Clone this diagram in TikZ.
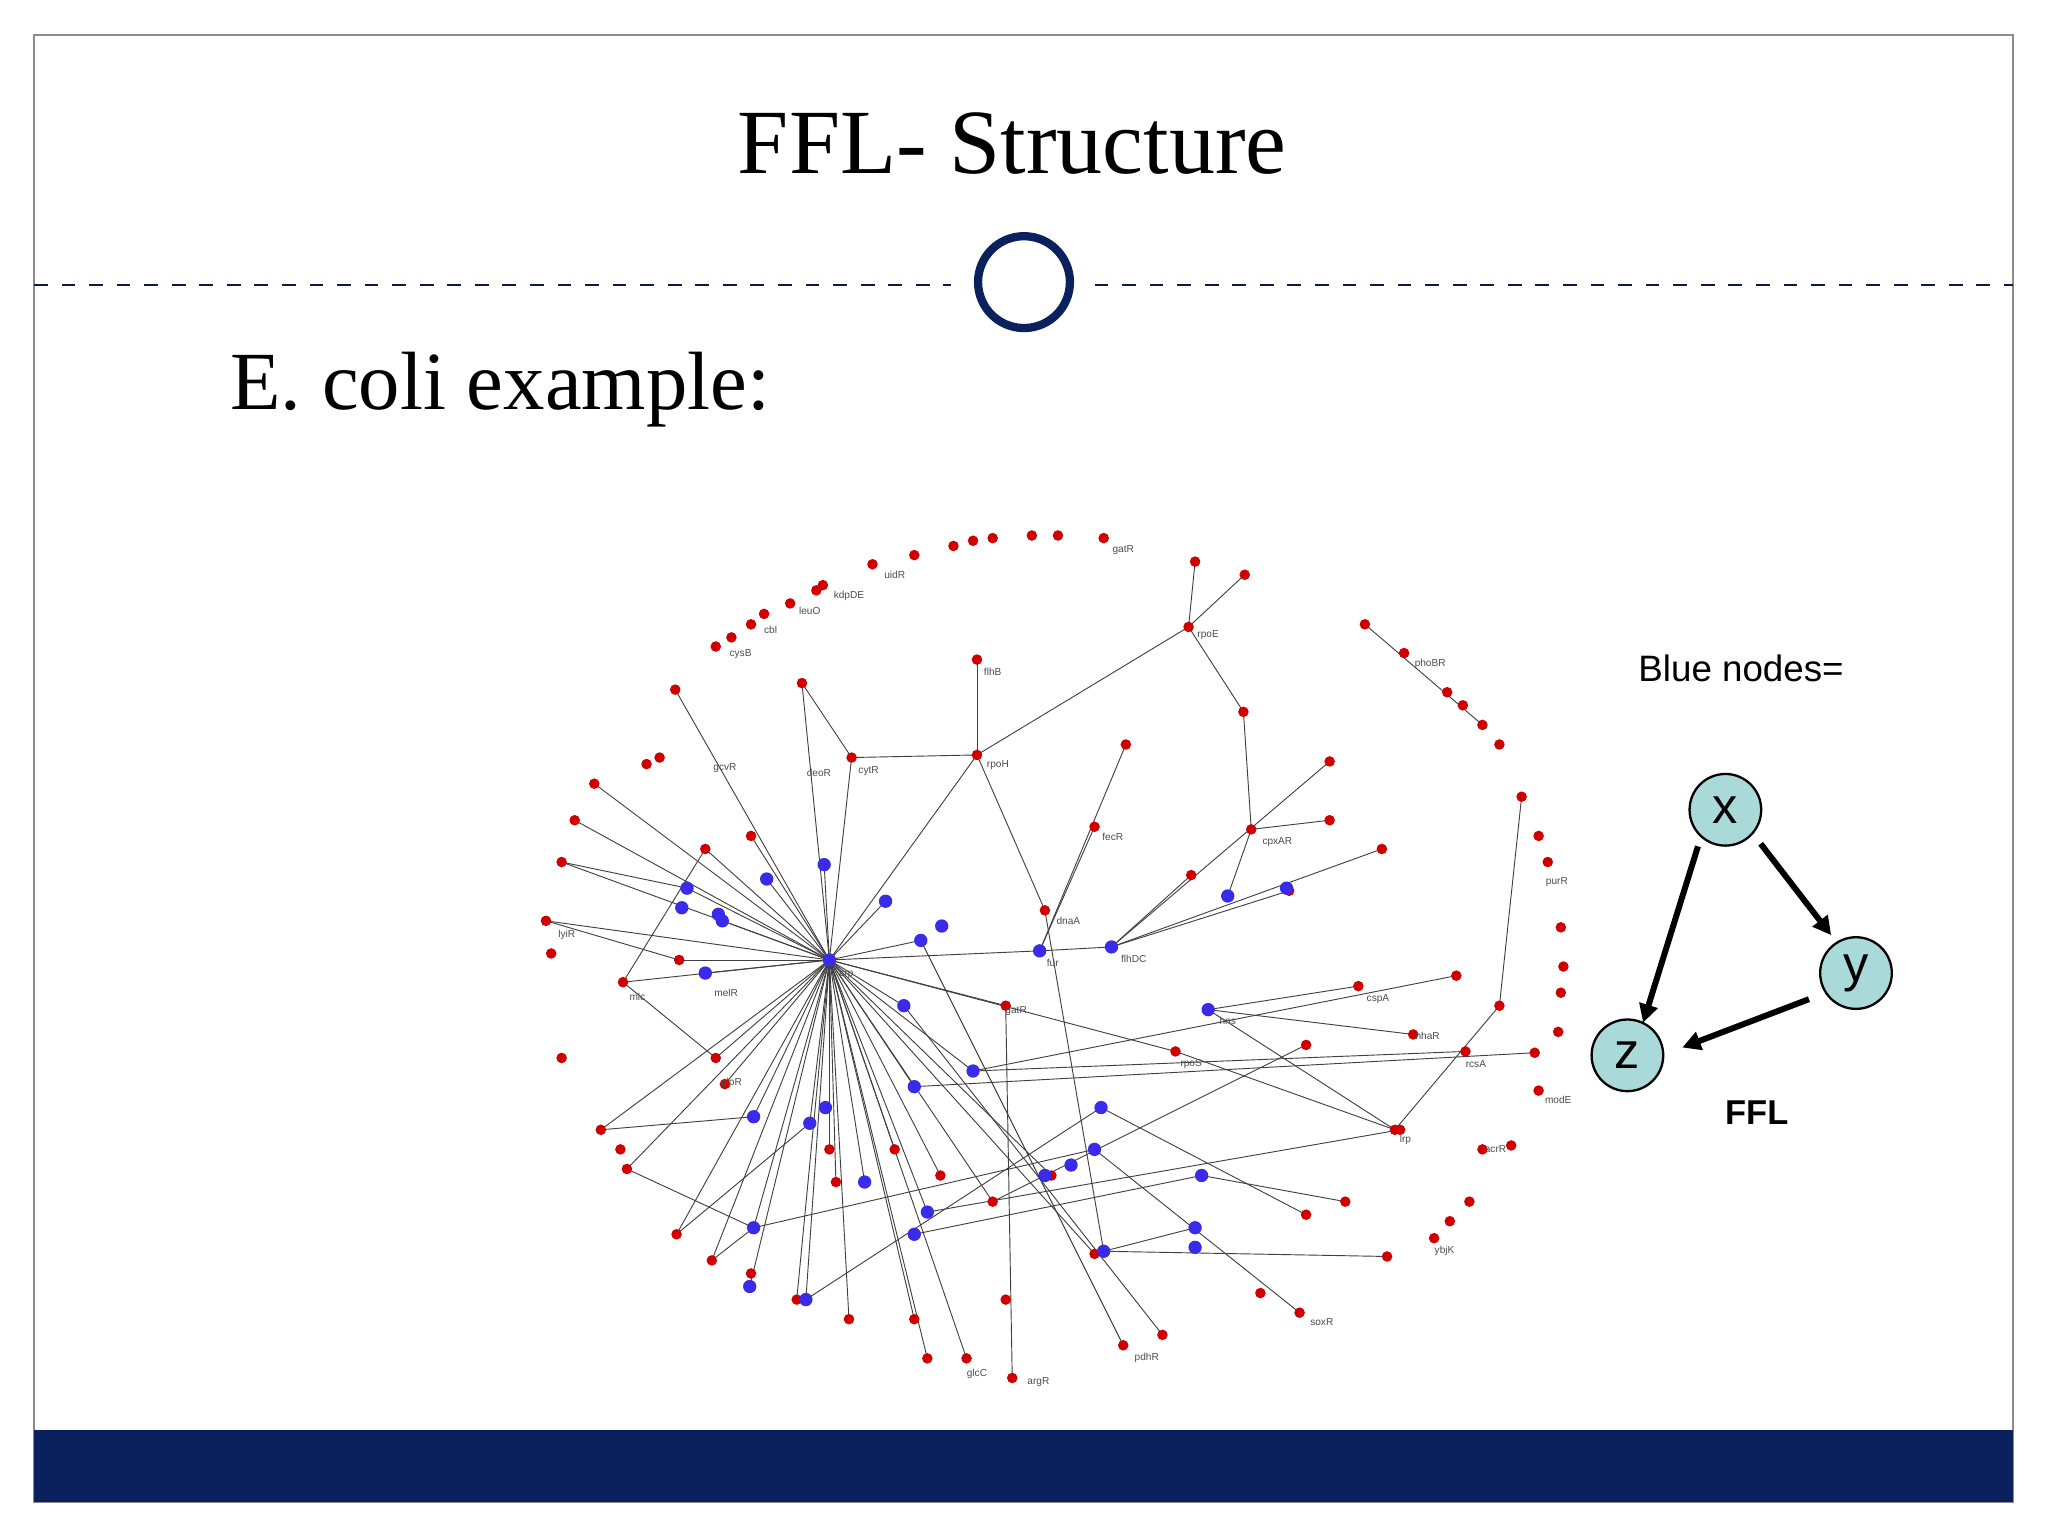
\documentclass[tikz,border=0pt]{standalone}
\usepackage{fontspec}
\setmainfont{Liberation Serif}
\newfontfamily\sans{Liberation Sans}
\usetikzlibrary{arrows.meta}
\definecolor{navy}{HTML}{0B215E}
\definecolor{rnode}{HTML}{D00000}
\definecolor{bnode}{HTML}{3A2BE8}
\definecolor{teal}{HTML}{A9D9D9}
\begin{document}
\begin{tikzpicture}[x=0.01cm,y=-0.01cm,
  rd/.style={circle,fill=rnode,inner sep=0pt,minimum size=2.3pt},
  bd/.style={circle,fill=bnode,inner sep=0pt,minimum size=2.9pt},
  lab/.style={font=\sans\fontsize{2.2}{2.2}\selectfont,text=black!70},
  ed/.style={black!75,line width=0.2pt},
  ffl/.style={circle,draw=black,fill=teal,line width=0.5pt,minimum size=15.6pt,inner sep=0pt,font=\sans\fontsize{11}{11}\selectfont},
  fa/.style={-{Triangle[length=4pt,width=4pt]},line width=1.3pt}]
\useasboundingbox (0,0) rectangle (1568,1176);
\fill[white] (0,0) rectangle (1568,1176);
\draw[black!45,line width=0.4pt] (26,27) rectangle (1541,1150);
\fill[navy] (26,1095) rectangle (1541,1150);
\draw[navy!80!black,dashed,line width=0.35pt] (26,218) -- (728,218);
\draw[navy!80!black,dashed,line width=0.35pt] (838,218) -- (1541,218);
\node[circle,draw=navy,line width=1.8pt,minimum size=20pt,inner sep=0pt] (circ) at (784,216) {};
\node (title) at (775,110) {\fontsize{20}{20}\selectfont FFL- Structure};
\node[anchor=west] (sub) at (164,298) {\fontsize{18}{18}\selectfont E. coli example:};
% network
\coordinate (H) at (635,735);
\foreach \x/\y in {540/650,575/640,520/735,548/810,555/830,635/880,640/905,685/880,720/900,760/920,770/770,805/900,838/960,900/805,455/600,440/628,430/660,418/705,477/752,460/865,480/895,518/945,545/965,610/995,650/1010,700/1010,710/1040,740/1040,614/523,517/528,652/580,748/578,587/673,631/662,526/680,553/705,540/745,678/690,705/720,692/770,700/832,745/820,796/728,577/855,620/860,577/940,574/985,617/995,662/905,710/928}
  \draw[ed] (H) -- (\x,\y);
\foreach \a/\b/\c/\d in {910/480/748/578,748/578/652/580,748/578/800/697,910/480/952/545,952/545/958/635,958/635/940/686,851/725/1058/650,796/728/851/725,851/725/912/670,851/725/1018/583,851/725/987/682,796/728/838/633,796/728/862/570,748/505/748/578,614/523/652/580,700/832/1175/806,745/820/1115/747,900/805/1068/865,1068/865/1148/770,1148/770/1165/610,925/773/1068/865,925/773/1040/755,745/820/1122/805,760/920/1000/800,700/945/920/900,710/928/1072/865,577/940/838/880,617/995/843/848,843/848/1000/930,800/697/845/958,845/958/1062/962,845/958/915/940,838/880/995/1005,770/770/775/1055,705/720/860/1030,692/770/890/1022,910/480/915/430,910/480/953/440,477/752/540/650,430/660/526/680,418/705/520/735,477/752/548/810,460/865/577/855,480/895/577/940,518/945/620/860,545/965/577/940,920/900/1030/920,925/773/1082/792,958/635/1018/628,1045/478/1135/555}
  \draw[ed] (\a,\b) -- (\c,\d);
\foreach \x/\y in {548/495,560/488,575/478,585/470,605/462,625/452,630/448,668/432,700/425,730/418,745/414,760/412,790/410,810/410,845/412,910/480,915/430,953/440,952/545,1045/478,1075/500,1108/530,1120/540,1135/555,1148/570,1165/610,1178/640,1185/660,1195/710,1197/740,1195/760,1193/790,1178/835,1157/877,1098/948,1110/935,1125/920,1062/962,748/578,652/580,614/523,517/528,748/505,862/570,838/633,800/697,912/670,1018/583,958/635,1018/628,1058/650,987/682,1115/747,1040/755,1148/770,455/600,440/628,430/660,418/705,422/730,477/752,430/810,460/865,475/880,480/895,518/945,545/965,575/975,610/995,650/1010,700/1010,710/1040,740/1040,775/1055,770/995,860/1030,890/1022,995/1005,965/990,1000/930,1030/920,1072/865,1135/880,540/650,575/640,520/735,548/810,555/830,635/880,640/905,685/880,720/900,760/920,770/770,805/900,838/960,900/805,1000/800,1082/792,1175/806,1122/805,1068/865,495/585,505/580}
  \node[rd] at (\x,\y) {};
\foreach \x/\y in {635/735,587/673,631/662,526/680,522/695,550/700,553/705,540/745,678/690,705/720,721/709,692/770,700/832,745/820,796/728,851/725,940/686,985/680,925/773,843/848,838/880,820/892,800/900,920/900,915/940,915/955,845/958,710/928,700/945,662/905,577/855,620/860,632/848,577/940,574/985,617/995}
  \node[bd] at (\x,\y) {};
\foreach \t/\x/\y in {rpoE/925/486,rpoH/764/586,gatR/860/421,uidR/685/440,kdpDE/650/456,cytR/665/590,deoR/627/592,gcvR/555/588,fecR/852/641,cpxAR/978/645,flhDC/868/734,dnaA/818/705,fur/806/737,gatR/778/774,cspA/1055/765,nhaR/1093/793,lrp/1076/873,purR/1192/675,rpoS/912/815,crp/648/746,melR/556/760,mlc/488/763,lyiR/434/716,glpR/560/829,pdhR/878/1040,argR/795/1058,glcC/748/1052,hns/940/782,soxR/1012/1012,acrR/1145/880,modE/1193/842,ybjK/1106/958,phoBR/1095/508,cbl/590/482,leuO/620/468,cysB/567/501,flhB/760/514,rcsA/1130/815}
  \node[lab] at (\x,\y) {\t};
% FFL
\node[anchor=west] (bn) at (1242,512) {\sans\fontsize{8}{8}\selectfont Blue nodes=};
\node[ffl] (x) at (1321,620) {x};
\node[ffl] (y) at (1421,745) {y};
\node[ffl] (z) at (1246,808) {z};
\node (fl) at (1345,852) {\sans\bfseries\fontsize{7.5}{7.5}\selectfont FFL};
\draw[fa] (1300,648) -- (1258,783);
\draw[fa] (1348,646) -- (1402,716);
\draw[fa] (1385,765) -- (1288,802);
\end{tikzpicture}
\end{document}
